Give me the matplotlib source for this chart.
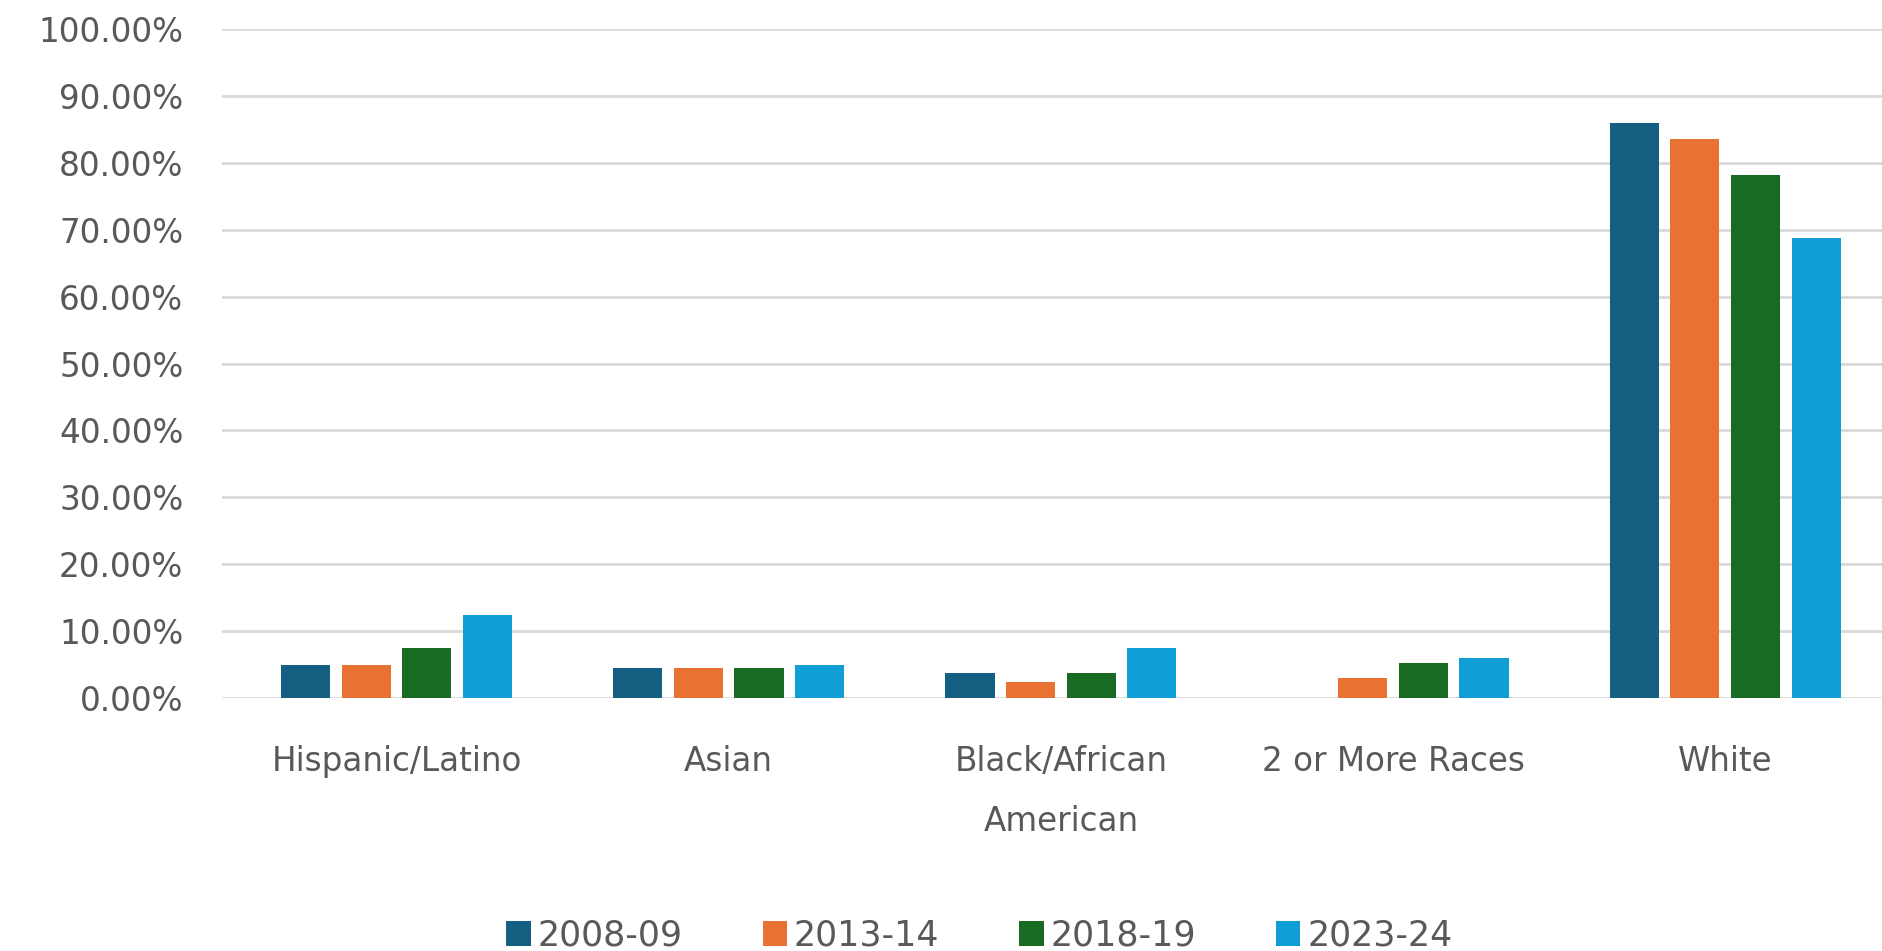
import numpy as np
import matplotlib.pyplot as plt
from matplotlib.ticker import PercentFormatter

categories = ["Hispanic/Latino", "Asian", "Black/African\nAmerican", "2 or More Races", "White"]
years = ["2008-09", "2013-14", "2018-19", "2023-24"]

share_2008 = [0.049, 0.045, 0.037, np.nan, 0.860]
share_2013 = [0.049, 0.045, 0.024, 0.030, 0.835]
share_2018 = [0.075, 0.045, 0.037, 0.052, 0.782]
share_2023 = [0.124, 0.049, 0.075, 0.060, 0.688]

colors = ["#156082", "#E97132", "#196B24", "#0F9ED5"]


def main():
    plt.rcParams['font.family'] = ['DejaVu Sans']
    fig = plt.figure(figsize=(18.83, 9.51), dpi=100)
    ax = fig.add_axes([0.118, 0.266, 0.882, 0.7035])

    x = np.arange(len(categories))
    step = 0.1825
    width = 0.148
    series = [share_2008, share_2013, share_2018, share_2023]
    for i, (vals, year, color) in enumerate(zip(series, years, colors)):
        offset = (i - 1.5) * step
        ax.bar(x + offset, vals, width, color=color, label=year, zorder=3)

    ax.set_ylim(0, 1.0)
    ax.set_xlim(-0.525, 4.475)
    ax.set_yticks(np.arange(0, 1.01, 0.1))
    ax.yaxis.set_major_formatter(PercentFormatter(1.0, decimals=2))
    ax.set_xticks(x)
    ax.set_xticklabels(categories, linespacing=2.03)

    ax.grid(axis='y', color='#D9D9D9', linewidth=2, zorder=0)
    for side in ax.spines.values():
        side.set_visible(False)
    ax.tick_params(axis='both', length=0, labelsize=23.5, colors='#595959')
    ax.tick_params(axis='y', pad=28)
    ax.tick_params(axis='x', pad=34)

    ax.legend(loc='center', bbox_to_anchor=(0.456, -0.355), ncol=4, frameon=False,
              fontsize=25, labelcolor='#595959', handlelength=0.7, handleheight=0.7,
              handletextpad=0.2, columnspacing=2.3)

    fig.savefig("out.png", dpi=100)


if __name__ == "__main__":
    main()
